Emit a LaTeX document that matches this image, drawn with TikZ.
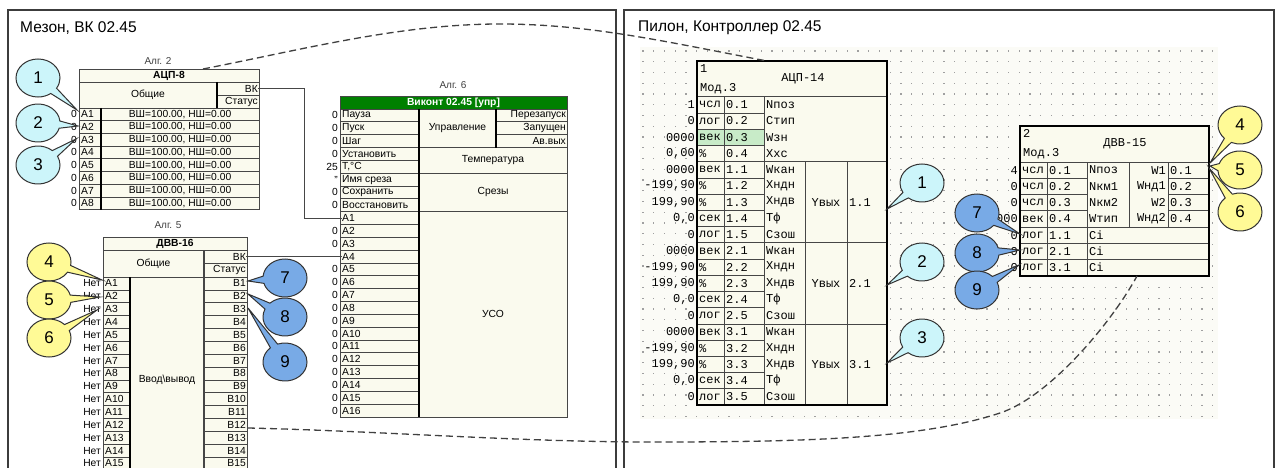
\documentclass[tikz,border=0pt]{standalone}
\usepackage{fontspec}
\setmainfont{Liberation Sans}
\newfontfamily\monofont{Liberation Mono}
\usetikzlibrary{shapes.callouts}
\definecolor{cream}{RGB}{250,250,238}
\definecolor{gline}{RGB}{70,70,70}
\definecolor{vgreen}{RGB}{0,128,0}
\definecolor{ccyan}{RGB}{204,245,250}
\definecolor{cyell}{RGB}{255,250,150}
\definecolor{cblue}{RGB}{120,170,230}
\definecolor{hlgreen}{RGB}{200,235,200}
\definecolor{gridbg}{RGB}{251,251,246}
\definecolor{dotc}{RGB}{160,160,160}
\definecolor{panel}{RGB}{60,60,60}
\begin{document}
\begin{tikzpicture}[x=1pt,y=-1pt,
  txt/.style={inner sep=0pt, font=\fontsize{10.3}{12}\selectfont},
  ttl/.style={inner sep=0pt, font=\bfseries\fontsize{10.3}{12}\selectfont},
  alg/.style={inner sep=0pt, text=black!75, font=\fontsize{10}{12}\selectfont},
  mono/.style={inner sep=0pt, font=\monofont\fontsize{12}{13}\selectfont},
  cellbox/.style={draw=gline, fill=cream, line width=0.7pt},
  sepline/.style={draw=black, line width=1.6pt},
  medline/.style={draw=gline, line width=1.1pt},
  blockborder/.style={draw=black, line width=2pt},
  wire/.style={draw=gline, line width=0.9pt},
  link/.style={draw=black!75, line width=1.3pt, dash pattern=on 7pt off 4pt},
  bub/.style={ellipse callout, draw=black!80, line width=1pt, minimum width=44pt,
     minimum height=38pt, inner sep=0pt, callout pointer arc=22,
     font=\fontsize{17}{18}\selectfont},
  panelline/.style={draw=panel, line width=1.3pt}]

\useasboundingbox (0,0) rectangle (1279,468);
\clip (0,0) rectangle (1279,468);
\fill[white] (0,0) rectangle (1279,468);

% ---------- panels ----------
\draw[panelline] (8,480) -- (8,10) -- (616,10) -- (616,480);
\draw[panelline] (624,480) -- (624,10) -- (1274,10) -- (1274,480);
\node[anchor=west, inner sep=0pt, font=\fontsize{15.5}{17}\selectfont] (title1) at (20,28) {Мезон, ВК 02.45};
\node[anchor=west, inner sep=0pt, font=\fontsize{15.5}{17}\selectfont] (title2) at (638,28) {Пилон, Контроллер 02.45};

% grid
\fill[gridbg] (640,47) rectangle (1218,419);
\foreach \i in {0,...,53}{
  \foreach \j in {0,...,34}{
    \fill[dotc] ({642.4+10.75*\i},{50.4+10.75*\j}) rectangle ++(1.3,1.3);
  }
}

% ---------- АЦП-8 ----------
\node[alg] (alg2) at (158,61) {Алг. 2};
\draw[cellbox] (79,69) rectangle (259,82);
\node[ttl] (a8t) at (169,75.5) {АЦП-8};
\draw[cellbox] (79,82) rectangle (217,108);
\node[txt] (a8g) at (148,95) {Общие};
\draw[cellbox] (217,82) rectangle (259,95);
\node[txt,anchor=east] (a8vk) at (258,88.5) {ВК};
\draw[cellbox] (217,95) rectangle (259,108);
\node[txt,anchor=east] (a8st) at (258,101.5) {Статус};
\foreach \i in {1,...,8}{
  \pgfmathsetmacro\ya{108+(\i-1)*12.7}
  \pgfmathsetmacro\yb{\ya+12.7}
  \pgfmathsetmacro\yc{\ya+6.35}
  \draw[cellbox] (79,\ya) rectangle (101,\yb);
  \draw[cellbox] (101,\ya) rectangle (259,\yb);
  \node[txt,anchor=west] (a8a\i) at (81,\yc) {A\i};
  \node[txt] (a8d\i) at (180,\yc) {ВШ=100.00, НШ=0.00};
  \node[txt,anchor=east] (a8v\i) at (77,\yc) {0};
}
\draw[sepline] (101,108) -- (101,209.6);
\draw[sepline] (217,82) -- (217,108);

% ---------- ДВВ-16 ----------
\node[alg] (alg5) at (168,225) {Алг. 5};
\draw[cellbox] (103,237) rectangle (247,250);
\node[ttl] (d16t) at (175,243.5) {ДВВ-16};
\draw[cellbox] (103,250) rectangle (204,277);
\node[txt] (d16g) at (153.5,263.5) {Общие};
\draw[cellbox] (204,250) rectangle (247,263.5);
\node[txt,anchor=east] (d16vk) at (246,256.75) {ВК};
\draw[cellbox] (204,263.5) rectangle (247,277);
\node[txt,anchor=east] (d16st) at (246,270.25) {Статус};
\draw[cellbox] (130,277) rectangle (204,480);
\node[txt] (d16io) at (167,380) {Ввод\textbackslash вывод};
\foreach \i in {1,...,15}{
  \pgfmathsetmacro\ya{277+(\i-1)*12.86}
  \pgfmathsetmacro\yb{\ya+12.86}
  \pgfmathsetmacro\yc{\ya+6.43}
  \draw[cellbox] (103,\ya) rectangle (130,\yb);
  \draw[cellbox] (204,\ya) rectangle (247,\yb);
  \node[txt,anchor=west] (d16a\i) at (105,\yc) {A\i};
  \node[txt,anchor=east] (d16b\i) at (246,\yc) {B\i};
  \node[txt,anchor=east] (d16n\i) at (101,\yc) {Нет};
}
\draw[sepline] (130,277) -- (130,480);
\draw[medline] (204,250) -- (204,480);

% ---------- Виконт ----------
\node[alg] (alg6) at (453,85) {Алг. 6};
\draw[draw=gline, fill=vgreen, line width=0.7pt] (340,96) rectangle (567,109);
\node[ttl, text=white] (vkt) at (453.5,102.5) {Виконт 02.45 [упр]};
\foreach \lab/\val [count=\i] in {Пауза/0, Пуск/0, Шаг/0, Установить/0, {T,°C/25}, Имя среза/{"}, Сохранить/0, Восстановить/0,
  A1/{}, A2/0, A3/0, A4/{}, A5/0, A6/0, A7/0, A8/0, A9/0, A10/0, A11/0, A12/0, A13/0, A14/0, A15/0, A16/0}{
  \pgfmathsetmacro\ya{109+(\i-1)*12.83}
  \pgfmathsetmacro\yb{\ya+12.83}
  \pgfmathsetmacro\yc{\ya+6.42}
  \draw[cellbox] (340,\ya) rectangle (419,\yb);
  \node[txt,anchor=west] (vkl\i) at (342,\yc) {\lab};
  \node[txt,anchor=east] (vkv\i) at (338,\yc) {\val};
}
\draw[cellbox] (419,109) rectangle (496,147.5);
\node[txt] (vkupr) at (457.5,128.25) {Управление};
\foreach \lab [count=\k] in {Перезапуск, Запущен, Ав.вых}{
  \pgfmathsetmacro\ya{109+(\k-1)*12.83}
  \pgfmathsetmacro\yb{\ya+12.83}
  \pgfmathsetmacro\yc{\ya+6.42}
  \draw[cellbox] (496,\ya) rectangle (567,\yb);
  \node[txt,anchor=east] (vkr\k) at (566,\yc) {\lab};
}
\draw[cellbox] (419,147.5) rectangle (567,173.2);
\node[txt] (vktemp) at (493,160.3) {Температура};
\draw[cellbox] (419,173.2) rectangle (567,211.6);
\node[txt] (vksr) at (493,192.4) {Срезы};
\draw[cellbox] (419,211.6) rectangle (567,417);
\node[txt] (vkuso) at (493,314.3) {УСО};
\draw[sepline] (419,109) -- (419,417);
\draw[sepline] (496,109) -- (496,147.5);

% connectors left panel
\draw[wire] (a8vk.east) -- ++(46,0) |- (vkl9.west);
\draw[wire] (d16vk.east) -- (d16vk.east -| vkl12.west);

% ---------- АЦП-14 ----------
\draw[cellbox] (697,61) rectangle (887,96.7);
\node[mono,anchor=west] (a14id) at (700,68.5) {1};
\node[mono] (a14t) at (803,78.5) {АЦП-14};
\node[mono,anchor=west] (a14mod) at (700,89) {Мод.3};
\draw[cellbox] (764,96.7) rectangle (887,161.62);
\foreach \g in {1,2,3}{
  \pgfmathsetmacro\ga{161.62+(\g-1)*81.15}
  \pgfmathsetmacro\gb{\ga+81.15}
  \pgfmathsetmacro\gc{\ga+40.6}
  \draw[cellbox] (764,\ga) rectangle (805,\gb);
  \draw[cellbox] (805,\ga) rectangle (847,\gb);
  \draw[cellbox] (847,\ga) rectangle (887,\gb);
  \node[mono] (a14y\g) at (826,\gc) {Yвых};
  \node[mono,anchor=west] (a14o\g) at (849,\gc) {\g.1};
}
\foreach \ty/\nu/\nm/\va [count=\i] in {
  чсл/0.1/Nпоз/1, лог/0.2/Стип/0, век/0.3/Wзн/0000, {\%/0.4/Xхс/0,00},
  век/1.1/Wкан/0000, {\%/1.2/Xндн/-199,90}, {\%/1.3/Xндв/199,90}, {сек/1.4/Tф/0,0}, лог/1.5/Сзош/0,
  век/2.1/Wкан/0000, {\%/2.2/Xндн/-199,90}, {\%/2.3/Xндв/199,90}, {сек/2.4/Tф/0,0}, лог/2.5/Сзош/0,
  век/3.1/Wкан/0000, {\%/3.2/Xндн/-199,90}, {\%/3.3/Xндв/199,90}, {сек/3.4/Tф/0,0}, лог/3.5/Сзош/0}{
  \pgfmathsetmacro\ya{96.7+(\i-1)*16.23}
  \pgfmathsetmacro\yb{\ya+16.23}
  \pgfmathsetmacro\yc{\ya+8.1}
  \ifnum\i=3 \def\cf{hlgreen}\else\def\cf{cream}\fi
  \draw[cellbox, fill=\cf] (697,\ya) rectangle (724,\yb);
  \draw[cellbox, fill=\cf] (724,\ya) rectangle (764,\yb);
  \node[mono,anchor=west] (a14ty\i) at (699,\yc) {\ty};
  \node[mono,anchor=west] (a14nu\i) at (726,\yc) {\nu};
  \node[mono,anchor=west] (a14nm\i) at (766,\yc) {\nm};
  \node[mono,anchor=east] (a14va\i) at (695,\yc) {\va};
}
\draw[blockborder] (697,61) rectangle (887,405.07);

% ---------- ДВВ-15 ----------
\draw[cellbox] (1020,126) rectangle (1209,162);
\node[mono,anchor=west] (d15id) at (1023,133) {2};
\node[mono] (d15t) at (1125,143.5) {ДВВ-15};
\node[mono,anchor=west] (d15mod) at (1023,154) {Мод.3};
\draw[cellbox] (1087,162) rectangle (1129,227);
\draw[cellbox] (1129,162) rectangle (1168,227);
\foreach \ty/\nu/\va [count=\i] in {чсл/0.1/4, чсл/0.2/0, чсл/0.3/0, век/0.4/0000, лог/1.1/0, лог/2.1/0, лог/3.1/0}{
  \pgfmathsetmacro\ya{162+(\i-1)*16.25}
  \pgfmathsetmacro\yb{\ya+16.25}
  \pgfmathsetmacro\yc{\ya+8.1}
  \draw[cellbox] (1020,\ya) rectangle (1047,\yb);
  \draw[cellbox] (1047,\ya) rectangle (1087,\yb);
  \node[mono,anchor=west] (d15ty\i) at (1022,\yc) {\ty};
  \node[mono,anchor=west] (d15nu\i) at (1049,\yc) {\nu};
  \node[mono,anchor=east] (d15va\i) at (1018,\yc) {\va};
}
\foreach \nm/\rn/\rv [count=\i] in {Nпоз/W1/0.1, Nкм1/Wнд1/0.2, Nкм2/W2/0.3, Wтип/Wнд2/0.4}{
  \pgfmathsetmacro\ya{162+(\i-1)*16.25}
  \pgfmathsetmacro\yb{\ya+16.25}
  \pgfmathsetmacro\yc{\ya+8.1}
  \draw[cellbox] (1168,\ya) rectangle (1209,\yb);
  \node[mono,anchor=west] (d15nm\i) at (1089,\yc) {\nm};
  \node[mono,anchor=east] (d15rn\i) at (1166,\yc) {\rn};
  \node[mono,anchor=west] (d15rv\i) at (1170,\yc) {\rv};
}
\foreach \i in {5,6,7}{
  \pgfmathsetmacro\ya{162+(\i-1)*16.25}
  \pgfmathsetmacro\yb{\ya+16.25}
  \pgfmathsetmacro\yc{\ya+8.1}
  \draw[cellbox] (1087,\ya) rectangle (1209,\yb);
  \node[mono,anchor=west] (d15ci\i) at (1089,\yc) {Ci};
}
\draw[blockborder] (1020,126) rectangle (1209,275.75);

% ---------- dashed links ----------
\coordinate (a8top) at (203,69);
\coordinate (a14top) at (767,61);
\draw[link] (a8top) .. controls (303,49.5) and (400,24) .. (500,24)
  .. controls (590,24) and (667,42) .. (a14top);
\coordinate (d16link) at (248,428);
\coordinate (d15bot) at (1137,276);
\draw[link] (d16link) .. controls (380,431) and (520,442) .. (650,442)
  .. controls (800,442) and (920,439.4) .. (1000,413)
  .. controls (1050,396.5) and (1112,322) .. (d15bot);

% ---------- callouts ----------
\coordinate (pL1) at (77,110);
\coordinate (pL2) at (78,126);
\coordinate (pL3) at (76,139);
\coordinate (pL4) at (102,280);
\coordinate (pL5) at (100,297);
\coordinate (pL6) at (97,310);
\coordinate (pL7) at (248,281);
\coordinate (pL8) at (248,294);
\coordinate (pL9) at (248,308);
\node[bub, fill=ccyan, callout absolute pointer=(pL1)] (cL1) at (38,78) {1};
\node[bub, fill=ccyan, callout absolute pointer=(pL2)] (cL2) at (38,123) {2};
\node[bub, fill=ccyan, callout absolute pointer=(pL3)] (cL3) at (38,165) {3};
\node[bub, fill=cyell, callout absolute pointer=(pL4)] (cL4) at (49,262) {4};
\node[bub, fill=cyell, callout absolute pointer=(pL5)] (cL5) at (49,300) {5};
\node[bub, fill=cyell, callout absolute pointer=(pL6)] (cL6) at (49,338) {6};
\node[bub, fill=cblue, callout absolute pointer=(pL7)] (cL7) at (285,278) {7};
\node[bub, fill=cblue, callout absolute pointer=(pL8)] (cL8) at (285,317) {8};
\node[bub, fill=cblue, callout absolute pointer=(pL9)] (cL9) at (285,362) {9};

\coordinate (pR1) at (887,209);
\coordinate (pR2) at (887,285);
\coordinate (pR3) at (887,363);
\coordinate (pR4) at (1210,163);
\coordinate (pR5) at (1210,166);
\coordinate (pR6) at (1209,168);
\coordinate (pR7) at (1020,234);
\coordinate (pR8) at (1020,250);
\coordinate (pR9) at (1019,265);
\node[bub, fill=ccyan, callout absolute pointer=(pR1)] (cR1) at (922,183) {1};
\node[bub, fill=ccyan, callout absolute pointer=(pR2)] (cR2) at (922,262) {2};
\node[bub, fill=ccyan, callout absolute pointer=(pR3)] (cR3) at (922,338) {3};
\node[bub, fill=cyell, callout absolute pointer=(pR4)] (cR4) at (1240,125) {4};
\node[bub, fill=cyell, callout absolute pointer=(pR5)] (cR5) at (1240,170) {5};
\node[bub, fill=cyell, callout absolute pointer=(pR6)] (cR6) at (1240,212) {6};
\node[bub, fill=cblue, callout absolute pointer=(pR7)] (cR7) at (977,213) {7};
\node[bub, fill=cblue, callout absolute pointer=(pR8)] (cR8) at (977,253) {8};
\node[bub, fill=cblue, callout absolute pointer=(pR9)] (cR9) at (977,290) {9};
\end{tikzpicture}
\end{document}
